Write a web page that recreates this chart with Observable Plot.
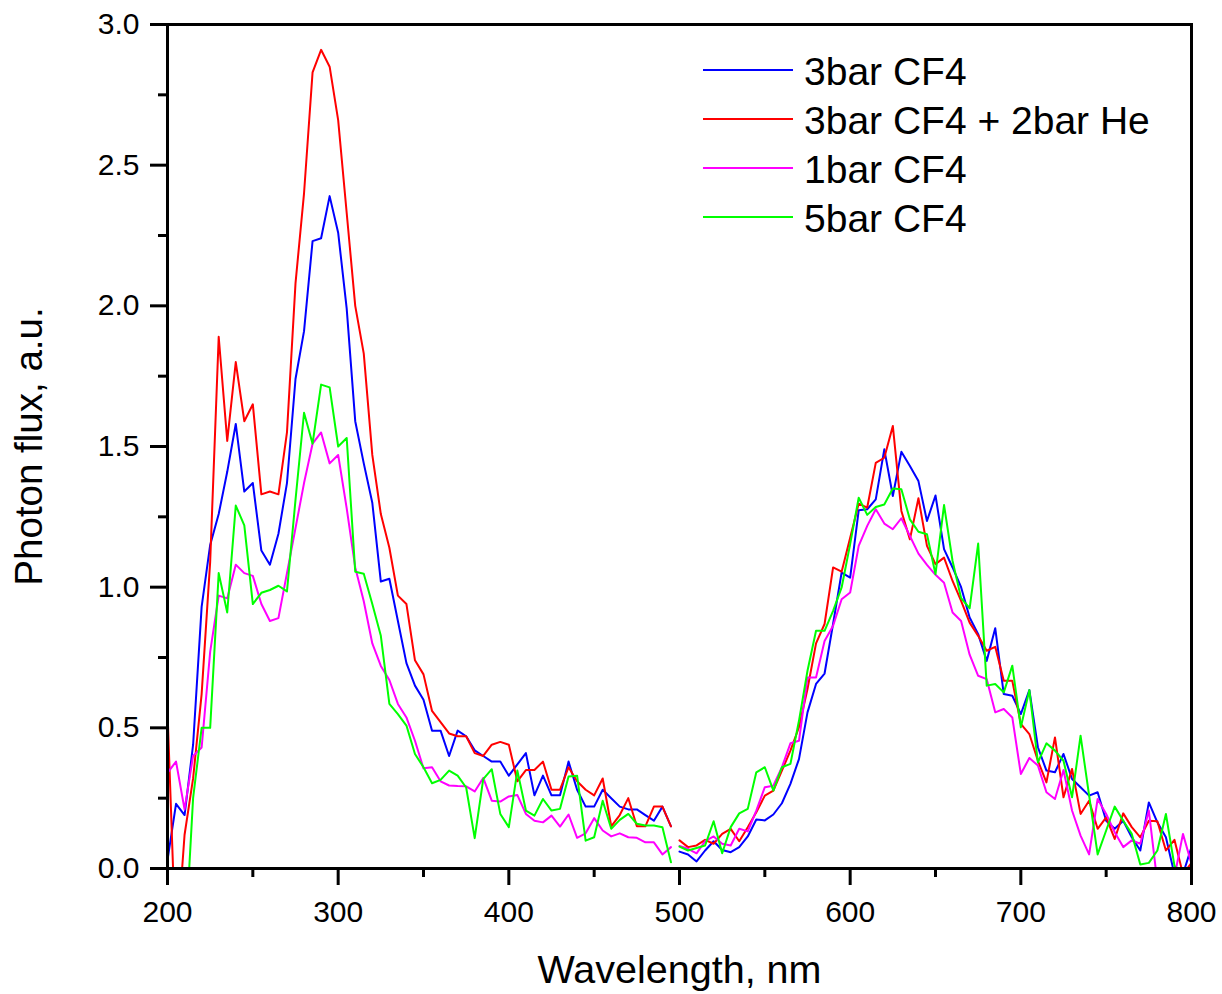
<!DOCTYPE html>
<html>
<head>
<meta charset="utf-8">
<script src="https://cdn.jsdelivr.net/npm/d3@7"></script>
<script src="https://cdn.jsdelivr.net/npm/@observablehq/plot@0.6"></script>
<style>
  body { margin: 0; background: #fff; }
  #wrap { position: relative; width: 1222px; height: 994px; font-family: "Liberation Sans", Arial, sans-serif; }
  .lg-line { position: absolute; height: 2px; }
  .lg-text { position: absolute; font-size: 39px; line-height: 39px; color: #000; white-space: nowrap; }
</style>
</head>
<body>
<div id="wrap"></div>
<script>
// ---- Data ----
const wavelengthsUV = d3.range(200, 500, 5);   // 200 ... 495 nm
const wavelengthsVis = d3.range(500, 805, 5);  // 500 ... 800 nm

const seriesNames = ["3bar CF4", "3bar CF4 + 2bar He", "1bar CF4", "5bar CF4"];
const seriesColors = ["#0000ff", "#ff0000", "#ff00ff", "#00ff00"];

const yTicks = [0, 0.5, 1.0, 1.5, 2.0, 2.5, 3.0];
const xTicks = [200, 300, 400, 500, 600, 700, 800];

// 3bar CF4
const cf4_3bar_UV = [0.03, 0.23, 0.19, 0.44, 0.93, 1.15, 1.26, 1.41, 1.58, 1.34,
  1.37, 1.13, 1.08, 1.19, 1.37, 1.74, 1.91, 2.23, 2.24, 2.39,
  2.26, 1.99, 1.59, 1.44, 1.30, 1.02, 1.03, 0.88, 0.73, 0.65,
  0.60, 0.49, 0.49, 0.40, 0.49, 0.47, 0.42, 0.40, 0.38, 0.38,
  0.33, 0.37, 0.41, 0.26, 0.33, 0.26, 0.26, 0.38, 0.28, 0.22,
  0.22, 0.28, 0.25, 0.22, 0.21, 0.21, 0.19, 0.17, 0.22, 0.15];
const cf4_3bar_Vis = [0.06, 0.05, 0.025, 0.064, 0.097, 0.066, 0.058, 0.076, 0.114, 0.174,
  0.171, 0.192, 0.232, 0.301, 0.389, 0.555, 0.656, 0.693, 0.87, 1.052,
  1.034, 1.273, 1.277, 1.312, 1.49, 1.324, 1.481, 1.431, 1.377, 1.235,
  1.326, 1.135, 1.07, 1.0, 0.892, 0.833, 0.738, 0.854, 0.62, 0.614,
  0.549, 0.634, 0.431, 0.348, 0.342, 0.407, 0.318, 0.289, 0.259, 0.271,
  0.17, 0.141, 0.17, 0.111, 0.064, 0.235, 0.164, 0.111, -0.02, -0.02,
  0.076];

// 3bar CF4 + 2bar He
const cf4He_UV = [0.56, -0.3, 0.12, 0.32, 0.62, 1.09, 1.89, 1.52, 1.80, 1.59,
  1.65, 1.33, 1.34, 1.33, 1.55, 2.08, 2.40, 2.83, 2.91, 2.85,
  2.66, 2.33, 2.00, 1.83, 1.47, 1.26, 1.14, 0.97, 0.94, 0.74,
  0.69, 0.56, 0.52, 0.48, 0.47, 0.47, 0.41, 0.40, 0.44, 0.45,
  0.44, 0.31, 0.35, 0.35, 0.38, 0.28, 0.28, 0.36, 0.31, 0.28,
  0.26, 0.32, 0.15, 0.19, 0.25, 0.15, 0.15, 0.22, 0.22, 0.15];
const cf4He_Vis = [0.10, 0.076, 0.082, 0.102, 0.088, 0.123, 0.141, 0.097, 0.147, 0.20,
  0.259, 0.277, 0.348, 0.419, 0.502, 0.638, 0.80, 0.869, 1.07, 1.055,
  1.176, 1.297, 1.283, 1.442, 1.46, 1.573, 1.271, 1.17, 1.316, 1.147,
  1.082, 1.105, 1.022, 0.951, 0.874, 0.827, 0.774, 0.788, 0.667, 0.667,
  0.514, 0.478, 0.383, 0.306, 0.466, 0.253, 0.354, 0.194, 0.241, 0.141,
  0.182, 0.105, 0.196, 0.147, 0.111, 0.17, 0.168, 0.064, 0.102, -0.02,
  0.02];

// 1bar CF4
const cf4_1bar_UV = [0.34, 0.38, 0.21, 0.40, 0.43, 0.77, 0.97, 0.96, 1.08, 1.05,
  1.04, 0.94, 0.88, 0.89, 1.05, 1.21, 1.37, 1.51, 1.55, 1.44,
  1.47, 1.28, 1.07, 0.95, 0.80, 0.72, 0.67, 0.585, 0.537, 0.454,
  0.356, 0.36, 0.31, 0.295, 0.293, 0.292, 0.274, 0.322, 0.241, 0.238,
  0.256, 0.261, 0.194, 0.17, 0.164, 0.188, 0.149, 0.192, 0.109, 0.125,
  0.179, 0.135, 0.114, 0.125, 0.111, 0.109, 0.093, 0.093, 0.05, 0.076];
const cf4_1bar_Vis = [0.08, 0.07, 0.054, 0.097, 0.114, 0.088, 0.082, 0.141, 0.132, 0.206,
  0.289, 0.294, 0.36, 0.445, 0.454, 0.679, 0.679, 0.809, 0.863, 0.957,
  0.981, 1.147, 1.218, 1.277, 1.226, 1.206, 1.245, 1.182, 1.119, 1.079,
  1.044, 1.016, 0.91, 0.88, 0.76, 0.685, 0.673, 0.555, 0.567, 0.537,
  0.336, 0.393, 0.366, 0.271, 0.247, 0.35, 0.206, 0.117, 0.05, 0.247,
  0.194, 0.129, 0.076, 0.10, 0.088, 0.206, -0.05, -0.05, -0.03, 0.123,
  0.016];

// 5bar CF4
const cf4_5bar_UV = [-0.2, -0.3, -0.3, 0.25, 0.50, 0.50, 1.05, 0.91, 1.29, 1.22,
  0.94, 0.98, 0.99, 1.005, 0.985, 1.31, 1.62, 1.51, 1.72, 1.71,
  1.50, 1.53, 1.055, 1.048, 0.94, 0.827, 0.585, 0.549, 0.508, 0.407,
  0.36, 0.303, 0.315, 0.348, 0.33, 0.288, 0.108, 0.318, 0.353, 0.194,
  0.147, 0.348, 0.206, 0.188, 0.247, 0.206, 0.212, 0.327, 0.33, 0.099,
  0.111, 0.241, 0.141, 0.173, 0.194, 0.159, 0.153, 0.153, 0.147, 0.022];
const cf4_5bar_Vis = [0.078, 0.064, 0.073, 0.082, 0.168, 0.054, 0.147, 0.196, 0.212, 0.342,
  0.36, 0.277, 0.36, 0.372, 0.525, 0.703, 0.845, 0.845, 0.916, 0.999,
  1.153, 1.318, 1.257, 1.285, 1.294, 1.351, 1.348, 1.241, 1.197, 1.188,
  1.046, 1.292, 1.093, 0.961, 0.925, 1.155, 0.65, 0.656, 0.626, 0.721,
  0.502, 0.634, 0.377, 0.445, 0.419, 0.383, 0.253, 0.472, 0.26, 0.05,
  0.135, 0.22, 0.17, 0.123, 0.014, 0.02, 0.064, 0.194, 0.01, -0.03,
  -0.03];

// ---- Build a tidy table for the library ----
const seriesUV = [cf4_3bar_UV, cf4He_UV, cf4_1bar_UV, cf4_5bar_UV];
const seriesVis = [cf4_3bar_Vis, cf4He_Vis, cf4_1bar_Vis, cf4_5bar_Vis];
const rows = [];
seriesNames.forEach((name, i) => {
  wavelengthsUV.forEach((w, j) => rows.push({wl: w, value: seriesUV[i][j], series: name, seg: name + "|UV"}));
  wavelengthsVis.forEach((w, j) => rows.push({wl: w, value: seriesVis[i][j], series: name, seg: name + "|Vis"}));
});

const font = '"Liberation Sans", Arial, sans-serif';

const chart = Plot.plot({
  width: 1222,
  height: 994,
  marginLeft: 167,
  marginRight: 31,
  marginTop: 24,
  marginBottom: 126,
  style: {fontFamily: font, background: "#fff", color: "#000", overflow: "visible"},
  x: {domain: [200, 800]},
  y: {domain: [0, 3.0]},
  color: {domain: seriesNames, range: seriesColors},
  marks: [
    Plot.line(rows, {x: "wl", y: "value", z: "seg", stroke: "series", strokeWidth: 2, clip: true}),
    Plot.frame({strokeWidth: 3}),
    Plot.axisY({ticks: yTicks, tickFormat: d3.format(".1f"), tickSize: 17, tickPadding: 11, fontSize: 30, strokeWidth: 3, label: null}),
    Plot.axisY({ticks: d3.range(0.25, 3, 0.5), tickSize: 9, text: null, strokeWidth: 3, label: null}),
    Plot.axisX({ticks: xTicks, tickFormat: d3.format("d"), tickSize: 17, tickPadding: 15, fontSize: 30, strokeWidth: 3, label: null}),
    Plot.axisX({ticks: d3.range(250, 800, 100), tickSize: 9, text: null, strokeWidth: 3, label: null}),
    Plot.text(["Wavelength, nm"], {text: d => d, frameAnchor: "bottom", textAnchor: "middle", dy: 114, fontSize: 39.5}),
    Plot.text(["Photon flux, a.u."], {text: d => d, frameAnchor: "left", textAnchor: "middle", rotate: -90, dx: -138, fontSize: 38.5})
  ]
});

const wrap = document.getElementById("wrap");
wrap.appendChild(chart);

// ---- Legend (inside the plot, top right) ----
seriesNames.forEach((name, i) => {
  const cy = 70 + 49 * i;
  const ln = document.createElement("div");
  ln.className = "lg-line";
  ln.style.left = "703px";
  ln.style.width = "90px";
  ln.style.top = (cy - 1) + "px";
  ln.style.background = seriesColors[i];
  wrap.appendChild(ln);
  const tx = document.createElement("div");
  tx.className = "lg-text";
  tx.style.left = "804px";
  tx.style.top = (cy - 18.5) + "px";
  tx.textContent = name;
  wrap.appendChild(tx);
});
</script>
</body>
</html>
